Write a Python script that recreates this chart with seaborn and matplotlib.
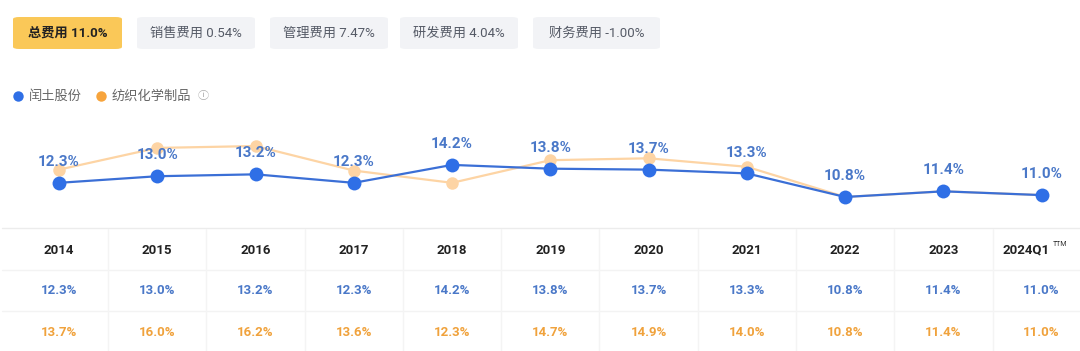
import matplotlib
matplotlib.use("Agg")
import matplotlib.pyplot as plt
from matplotlib.patches import FancyBboxPatch
from matplotlib.lines import Line2D
import pandas as pd
import seaborn as sns

# 数据
years = ['2014', '2015', '2016', '2017', '2018', '2019', '2020', '2021', '2022', '2023', '2024Q1']
company = [12.3, 13.0, 13.2, 12.3, 14.2, 13.8, 13.7, 13.3, 10.8, 11.4, 11.0]
industry = [13.7, 16.0, 16.2, 13.6, 12.3, 14.7, 14.9, 14.0, 10.8, 11.4, 11.0]
series_names = ['闰土股份', '纺织化学制品']
tabs = ['总费用 11.0%', '销售费用 0.54%', '管理费用 7.47%', '研发费用 4.04%', '财务费用 -1.00%']

sns.set_theme(style='white')
plt.rcParams['font.family'] = ['Roboto', 'Noto Sans CJK SC', 'DejaVu Sans']

BLUE = '#2f6fe6'
BLUE_LINE = '#3b6fd6'
BLUE_TXT = '#4a78c8'
ORANGE_PT = '#fdd4a4'
ORANGE_TXT = '#f0a23c'

W, H = 1080, 351
fig = plt.figure(figsize=(W / 100, H / 100), dpi=100)

# 背景层：像素坐标 (x 用类别序号)
XL = (-0.6, 10.39)
bg = fig.add_axes([0, 0, 1, 1])
bg.set_xlim(*XL)
bg.set_ylim(H, 0)
bg.axis('off')

# 折线图区域 (像素 y 120-225)
top_px, bot_px = 120, 225
ax = fig.add_axes([0, 1 - bot_px / H, 1, (bot_px - top_px) / H])
df = pd.DataFrame({'idx': list(range(len(years))) * 2,
                   'val': industry + company,
                   'name': [series_names[1]] * len(years) + [series_names[0]] * len(years)})
sns.lineplot(data=df[df['name'] == series_names[1]], x='idx', y='val', ax=ax,
             color=ORANGE_PT, lw=1.6, marker='o', markersize=9, markeredgewidth=0,
             legend=False)
sns.lineplot(data=df[df['name'] == series_names[0]], x='idx', y='val', ax=ax,
             color=BLUE_LINE, lw=1.6, marker='o', markersize=10, markeredgewidth=0,
             markerfacecolor=BLUE, legend=False)
ax.set_xlim(*XL)
ax.set_ylim(7.83, 18.96)
ax.axis('off')
for i, v in enumerate(company):
    ax.annotate(f'{v:.1f}%', (i, v), xytext=(0, 10), textcoords='offset points',
                ha='center', va='bottom', fontsize=11, fontweight='bold', color=BLUE_TXT)

# 顶部标签按钮
tab_x = [(13, 122), (137, 255), (270, 388), (400, 518), (533, 660)]
for k, (lab, (x0, x1)) in enumerate(zip(tabs, tab_x)):
    fx0, fx1 = x0 / W, x1 / W
    face = '#fac858' if k == 0 else '#f2f3f6'
    fig.patches.append(FancyBboxPatch((fx0, 1 - 49 / H), fx1 - fx0, 32 / H,
                                      boxstyle='round,pad=0,rounding_size=0.006',
                                      transform=fig.transFigure, facecolor=face,
                                      edgecolor='none', zorder=0))
    fig.text((fx0 + fx1) / 2, 1 - 33 / H, lab, ha='center', va='center', fontsize=9.5,
             color='#222222' if k == 0 else '#555a66',
             fontweight='bold' if k == 0 else 'normal')

# 图例
for px, col, name in [(18, BLUE, series_names[0]), (101, '#f7a43c', series_names[1])]:
    fig.add_artist(Line2D([px / W], [1 - 96 / H], marker='o', markersize=7.5,
                          markeredgewidth=0, color=col, transform=fig.transFigure))
    fig.text((px + 11) / W, 1 - 96 / H, name, ha='left', va='center', fontsize=9.5, color='#666666')
fig.text(203 / W, 1 - 96 / H, 'ⓘ', ha='center', va='center', fontsize=8, color='#aaaaaa',
         family=['Noto Sans CJK SC', 'DejaVu Sans'])

# 表格
for yy, c in [(228, '#ececec'), (270, '#f3f3f3'), (311, '#f3f3f3')]:
    bg.plot([-0.58, 10.39], [yy, yy], color=c, lw=1)
for i in range(len(years) - 1):
    bg.plot([i + 0.5, i + 0.5], [229, H], color='#f4f4f4', lw=1)

last = len(years) - 1
for i, (y, a, b) in enumerate(zip(years, company, industry)):
    if i == last:
        bg.annotate(y, (i, 250), xytext=(6, 0), textcoords='offset points', ha='right',
                    va='center', fontsize=9.5, fontweight='bold', color='#222222')
        bg.annotate('TTM', (i, 250), xytext=(8, 4), textcoords='offset points', ha='left',
                    va='center', fontsize=5, color='#333333')
    else:
        bg.text(i, 250, y, ha='center', va='center', fontsize=9.5, fontweight='bold', color='#222222')
    bg.text(i, 291, f'{a:.1f}%', ha='center', va='center', fontsize=9.5, fontweight='bold', color=BLUE_TXT)
    bg.text(i, 332, f'{b:.1f}%', ha='center', va='center', fontsize=9.5, fontweight='bold', color=ORANGE_TXT)

fig.savefig('out.png', dpi=100)
